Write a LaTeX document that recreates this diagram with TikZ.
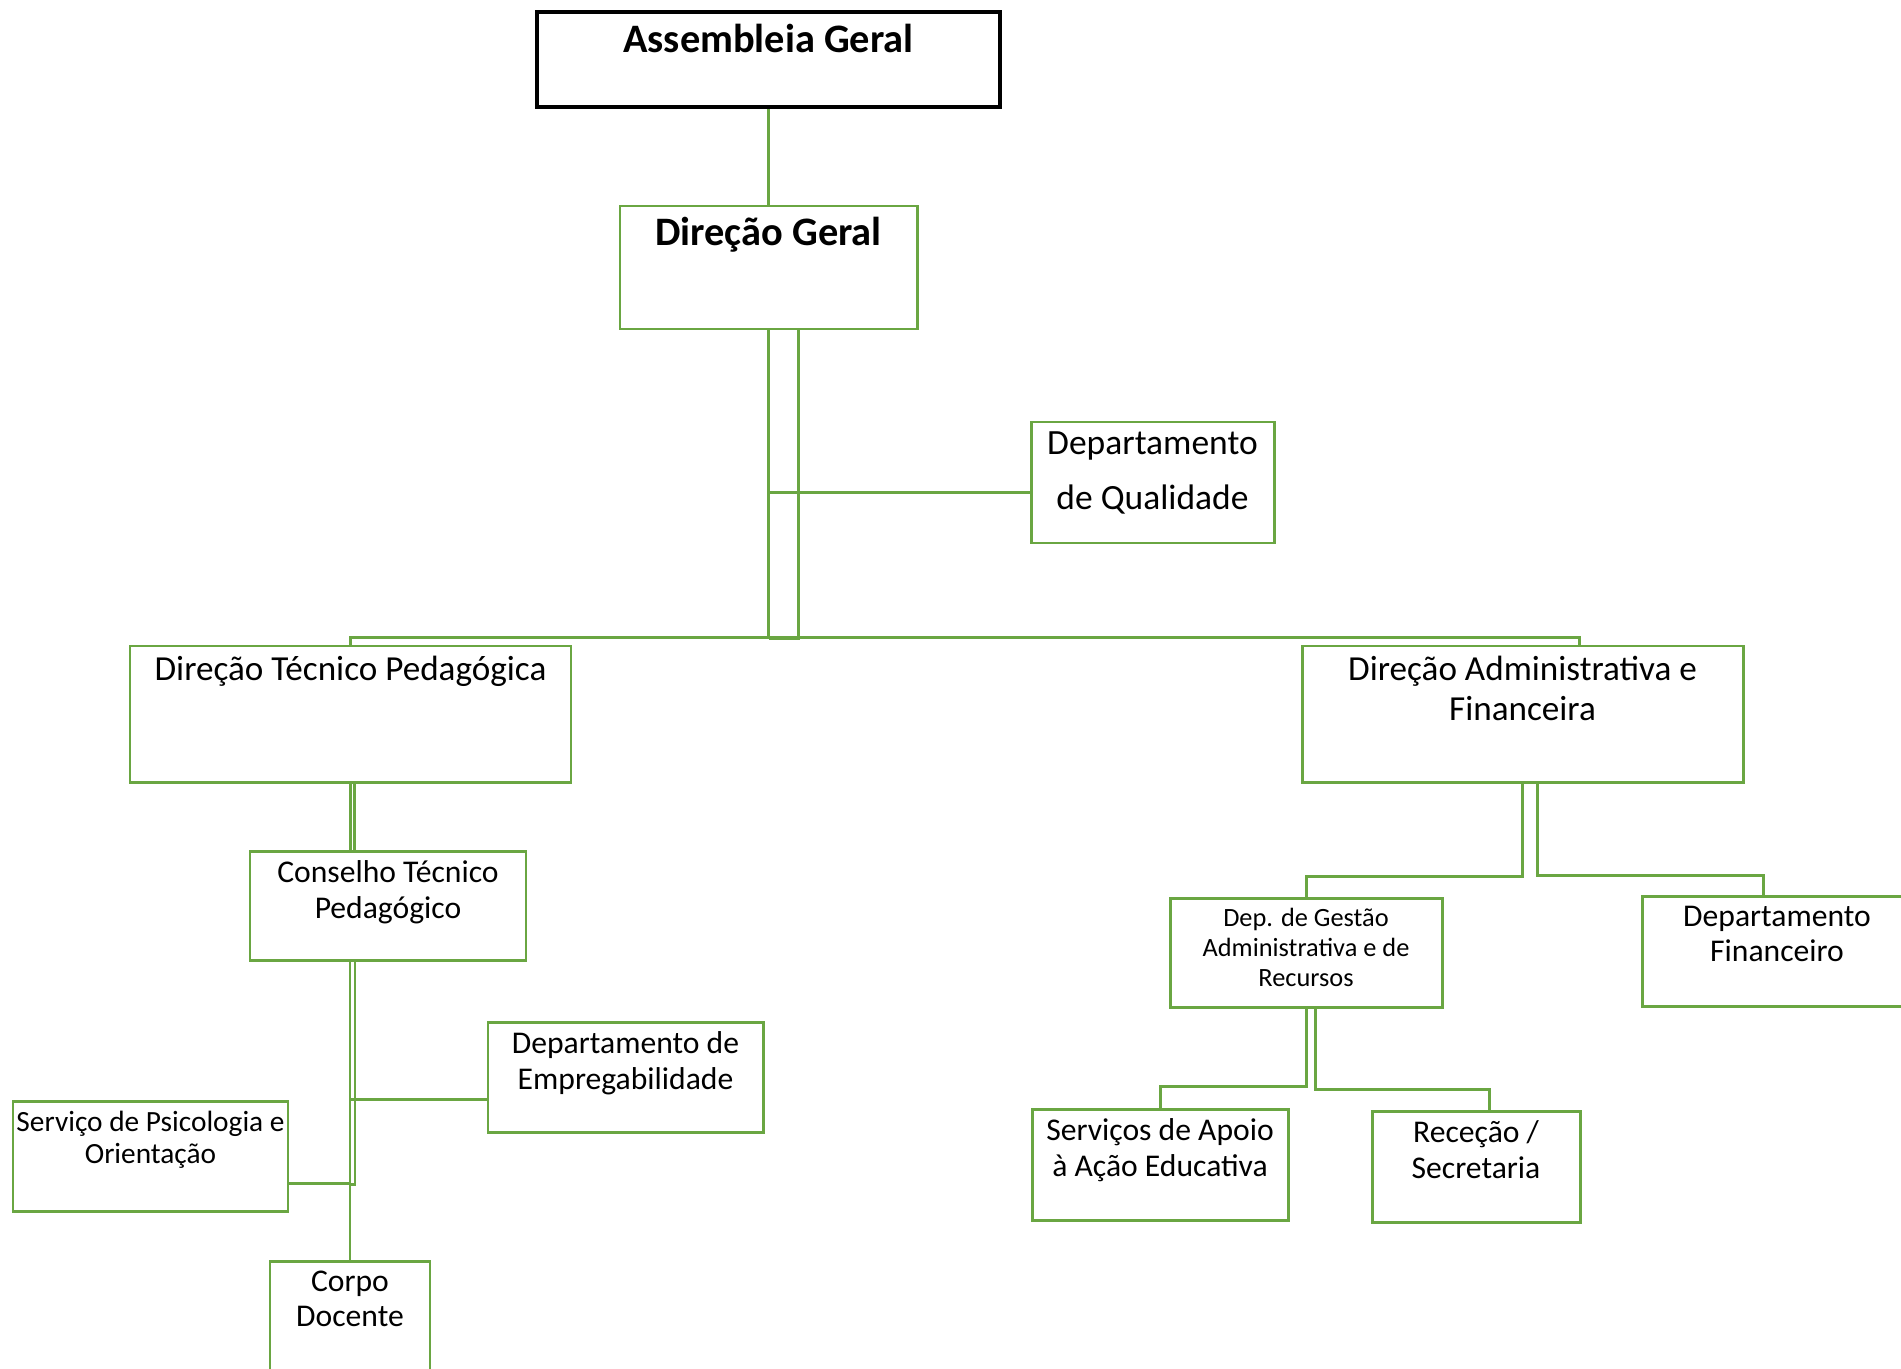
\documentclass[tikz,border=0pt]{standalone}
\usepackage{fontspec}
\setmainfont{Carlito}
\usetikzlibrary{calc}
\definecolor{orggreen}{RGB}{106,166,66}
\newlength{\unitpx}
\setlength{\unitpx}{0.02cm}
% text box of fixed size, text set at the top
\newcommand{\tbox}[4][10]{\parbox[t][#3\unitpx][t]{#2\unitpx}{\centering\vspace*{#1\unitpx}#4}}

\begin{document}
\begin{tikzpicture}[x=1\unitpx,y=-1\unitpx,
            orgbox/.style={draw=orggreen,line width=1.7pt,inner sep=0pt,
                        font=\fontsize{18}{20}\selectfont},
            topbox/.style={draw=black,line width=2pt,inner sep=0pt,
                        font=\fontsize{23}{28}\selectfont\bfseries},
            link/.style={draw=orggreen,line width=1.7pt}]
        \path[use as bounding box,clip] (0,0) rectangle (1901,1369);
        % boxes
        \node[topbox] (ag) at (768.5,59.5) {\tbox[12]{463}{95}{Assembleia Geral}};
        \node[orgbox,font=\fontsize{23}{28}\selectfont\bfseries] (dg) at (768.5,267.5)
            {\tbox[11]{297}{123}{Direção Geral}};
        \node[orgbox,font=\fontsize{20.2}{31.3}\selectfont] (dq) at (1152.5,482.5)
            {\tbox{243}{121}{Departamento\\de Qualidade}};
        \node[orgbox,font=\fontsize{20}{22.8}\selectfont] (dtp) at (350.5,714)
            {\tbox{441}{136}{Direção Técnico Pedagógica}};
        \node[orgbox,font=\fontsize{20}{22.8}\selectfont] (daf) at (1522.5,714)
            {\tbox{441}{136}{Direção Administrativa e\\Financeira}};
        \node[orgbox] (ctp) at (388,905.5) {\tbox{276}{109}{Conselho Técnico\\Pedagógico}};
        \node[orgbox] (de) at (625.5,1077) {\tbox{275}{110}{Departamento de\\Empregabilidade}};
        \node[orgbox,font=\fontsize{16.7}{18.3}\selectfont] (spo) at (150.5,1156)
            {\tbox{275}{110}{Serviço de Psicologia e\\Orientação}};
        \node[orgbox] (cd) at (350,1331) {\tbox{160}{140}{Corpo\\Docente}};
        \node[orgbox,font=\fontsize{15}{17}\selectfont] (dgar) at (1306,952.5)
            {\tbox{272}{109}{Dep. de Gestão\\Administrativa e de\\Recursos}};
        \node[orgbox] (df) at (1777,951) {\tbox{270}{110}{Departamento\\Financeiro}};
        \node[orgbox] (saae) at (1160,1164.5) {\tbox{256}{111}{Serviços de Apoio\\à Ação Educativa}};
        \node[orgbox] (rs) at (1476,1166.5) {\tbox{208}{111}{Receção /\\Secretaria}};
        % connectors
        \coordinate (bus) at (0,639);
        \draw[link] (ag) -- (dg);
        \draw[link] (dg.south) -- (dg.south |- bus);
        \draw[link] ($(dg.south)+(30,0)$) -- ($(dg.south |- bus)+(30,0)$) -- (dg.south |- bus);
        \draw[link] ($(dg.south |- dq.west)+(0,10)$) -- ($(dq.west)+(0,10)$);
        \draw[link] (dtp.north) |- ($(daf.north)+(56.5,-7)$) -- ($(daf.north)+(56.5,0)$);
        \draw[link] (dtp.south) -- (dtp.south |- ctp.north);
        \draw[link] ($(dtp.south)+(4,0)$) -- ($(dtp.south |- ctp.north)+(4,0)$);
        \draw[link] (cd.north |- ctp.south) -- (cd.north);
        \draw[link] ($(cd.north |- ctp.south)+(5,0)$) -- ++(0,223) -- ++(-5,0);
        \draw[link] ($(de.west)+(0,22)$) -- ($(cd.north |- de.west)+(0,22)$);
        \draw[link] ($(spo.east)+(0,27)$) -- ($(cd.north |- spo.east)+(0,27)$);
        \draw[link] (daf.south) -- ++(0,93) -| (dgar.north);
        \draw[link] ($(daf.south)+(15,0)$) -- ++(0,92) -| ($(df.north)+(-14,0)$);
        \draw[link] (dgar.south) -- ++(0,78) -| (saae.north);
        \draw[link] ($(dgar.south)+(9,0)$) -- ++(0,81) -| ($(rs.north)+(13,0)$);
\end{tikzpicture}
\end{document}
